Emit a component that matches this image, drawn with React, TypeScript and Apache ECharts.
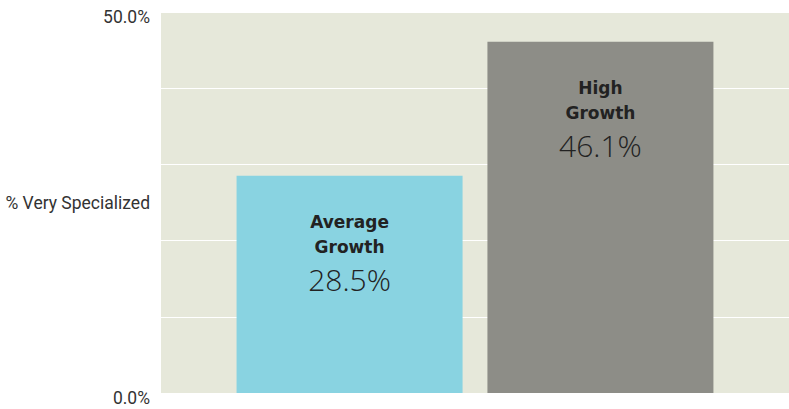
import React, { useEffect, useRef } from "react";
import * as echarts from "echarts";

const categories = ["Average Growth", "High Growth"];
const values = [28.5, 46.1];
const barColors = ["#89d3e1", "#8d8d87"];
const yTicks = [0, 10, 20, 30, 40, 50];
const yAxisName = "% Very Specialized";

export default function App() {
  const ref = useRef<HTMLDivElement>(null);
  useEffect(() => {
    document.body.style.margin = "0";
    const chart = echarts.init(ref.current!, null, { renderer: "svg" });
    const series = categories.map((c, i) => ({
      type: "bar",
      name: c,
      data: [values[i]],
      barWidth: 226,
      barGap: "11%",
      itemStyle: { color: barColors[i] },
      label: {
        show: true,
        position: "insideTop",
        distance: 34,
        formatter: () =>
          c
            .split(" ")
            .map((w) => `{b|${w}}`)
            .join("\n") + `\n{v|${values[i].toFixed(1)}%}`,
        rich: {
          b: {
            fontFamily: "DejaVu Sans",
            fontWeight: "bold",
            fontSize: 17,
            lineHeight: 25,
            color: "#222",
          },
          v: {
            fontFamily: "Open Sans",
            fontWeight: 300,
            fontSize: 30,
            lineHeight: 40,
            color: "#222",
          },
        },
      },
    }));
    chart.setOption({
      animation: false,
      grid: {
        left: 161,
        right: 0,
        top: 12,
        bottom: 16,
        show: true,
        backgroundColor: "#e6e8da",
        borderWidth: 0,
        containLabel: false,
        outerBoundsMode: "none",
      },
      xAxis: {
        type: "category",
        data: [""],
        axisLine: { show: false },
        axisTick: { show: false },
        axisLabel: { show: false },
      },
      yAxis: {
        type: "value",
        min: yTicks[0],
        max: yTicks[yTicks.length - 1],
        interval: 10,
        name: yAxisName,
        nameLocation: "middle",
        nameRotate: 0,
        nameGap: 11,
        nameMoveOverlap: false,
        nameTextStyle: {
          fontFamily: "Roboto",
          fontSize: 17.5,
          color: "#333",
        },
        axisLine: { show: false },
        axisTick: { show: false },
        splitLine: { show: true, lineStyle: { color: "#ffffff", width: 1 } },
        axisLabel: {
          margin: 11,
          fontFamily: "Roboto",
          fontSize: 17.5,
          color: "#333",
          verticalAlign: "top",
          lineHeight: 10,
          formatter: (v: number) =>
            v === yTicks[0] || v === yTicks[yTicks.length - 1]
              ? `${v.toFixed(1)}%`
              : "",
        },
      },
      series,
    });
    return () => chart.dispose();
  }, []);
  return <div ref={ref} style={{ width: 789, height: 409 }} />;
}
